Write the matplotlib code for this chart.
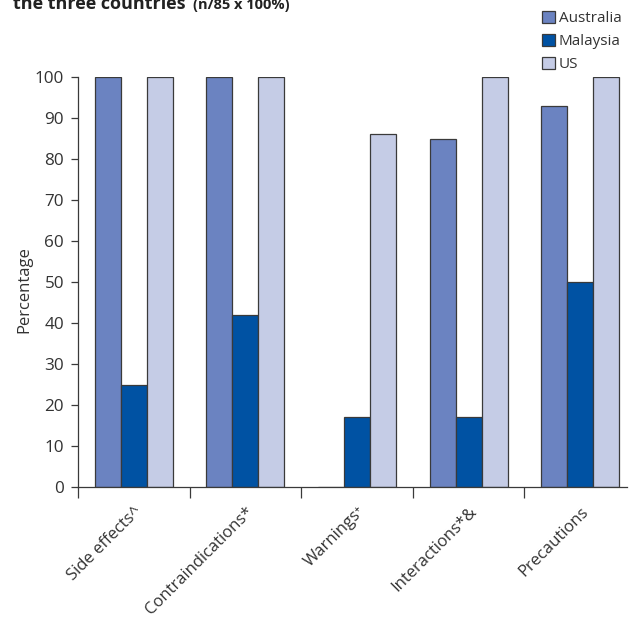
import matplotlib
matplotlib.use("Agg")
import matplotlib.pyplot as plt
import numpy as np

categories = ["Side effects^", "Contraindications*", "Warnings⁺", "Interactions*&", "Precautions"]
series_names = ["Australia", "Malaysia", "US"]
australia = [100, 100, 0, 85, 93]
malaysia = [25, 42, 17, 17, 50]
us = [100, 100, 86, 100, 100]
yticks = [0, 10, 20, 30, 40, 50, 60, 70, 80, 90, 100]

colors = ["#6b83c1", "#0052a3", "#c5cce6"]
edge = "#3a3a3a"
txt = "#333333"

plt.rcParams['font.family'] = ['Open Sans', 'DejaVu Sans']

W, H = 638, 617
fig = plt.figure(figsize=(W / 100, H / 100), dpi=100)

x0_px, x1_px = 78, 627
y0_px, y1_px = 487, 77
ax = fig.add_axes([x0_px / W, 1 - y0_px / H, (x1_px - x0_px) / W, (y0_px - y1_px) / H])

x = np.arange(len(categories))
w = 0.233
for i, (vals, name) in enumerate(zip([australia, malaysia, us], series_names)):
    ax.bar(x + (i - 1) * w, vals, width=w, color=colors[i], edgecolor=edge,
           linewidth=0.9, label=name, zorder=2)

ax.set_xlim(-0.5, 4.42)
ax.set_ylim(0, 100)
ax.set_yticks(yticks)
ax.set_yticklabels([str(v) for v in yticks], fontsize=12.3, color=txt)

# group boundary ticks (major) and category labels (minor)
ax.set_xticks([-0.5, 0.5, 1.5, 2.5, 3.5])
ax.set_xticklabels([])
ax.set_xticks(x, minor=True)
ax.set_xticklabels(categories, minor=True, rotation=45, ha='right', va='top',
                   rotation_mode='anchor', fontsize=12, color=txt)
ax.tick_params(axis='x', which='major', length=8, width=0.9, color=edge, direction='out')
ax.tick_params(axis='x', which='minor', length=0, pad=12)
ax.tick_params(axis='y', length=5, width=0.9, color=edge, pad=5)

for s in ['top', 'right']:
    ax.spines[s].set_visible(False)
for s in ['left', 'bottom']:
    ax.spines[s].set_color(edge)
    ax.spines[s].set_linewidth(0.9)

fig.text(24 / W, 1 - 290 / H, "Percentage", rotation=90, ha='center', va='center',
         fontsize=12, color=txt)

# title (cut off at top)
fig.text(13 / W, 1 - 9 / H, "the three countries", fontsize=13, fontweight='bold',
         color='#222222', ha='left', va='baseline')
fig.text(193 / W, 1 - 9 / H, "(n/85 x 100%)", fontsize=10.5, fontweight='bold',
         color='#222222', ha='left', va='baseline')

leg = fig.legend(loc='upper left', bbox_to_anchor=(542 / W, 1 - 11 / H), frameon=False,
                 fontsize=11, handlelength=0.85, handleheight=0.85, handletextpad=0.25,
                 labelspacing=0.5, borderpad=0, borderaxespad=0)
for t in leg.get_texts():
    t.set_color(txt)

fig.savefig("out.png", dpi=100)
